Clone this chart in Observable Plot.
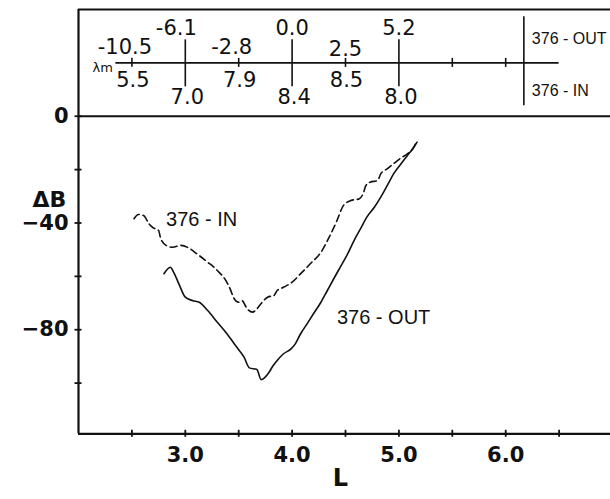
<!DOCTYPE html>
<html>
<head>
<meta charset="utf-8">
<script src="https://cdn.jsdelivr.net/npm/d3@7"></script>
<script src="https://cdn.jsdelivr.net/npm/@observablehq/plot@0.6"></script>
<style>
  html, body { margin: 0; padding: 0; background: #fff; }
</style>
</head>
<body>
<div id="chart"></div>
<script>
// Pass 376: field depression ΔB (gammas) against L shell, inbound and outbound legs
const inL  = [2.52, 2.56, 2.61, 2.66, 2.70, 2.75, 2.77, 2.82, 2.88, 2.96, 3.03, 3.11, 3.21, 3.30, 3.38, 3.42, 3.45, 3.50, 3.53, 3.58, 3.63, 3.67, 3.72, 3.77, 3.83, 3.86, 3.92, 4.00, 4.08, 4.17, 4.27, 4.34, 4.42, 4.48, 4.55, 4.63, 4.67, 4.69, 4.73, 4.80, 4.83, 4.89, 4.95, 5.02, 5.08, 5.13, 5.16];
const inB  = [-38.4, -36.8, -37.2, -40.3, -41.8, -42.8, -45.9, -48.4, -49.1, -48.4, -49.3, -51.6, -54.7, -57.8, -61.6, -64.7, -67.8, -69.7, -69.1, -72.2, -73.4, -72.2, -69.7, -67.8, -67.2, -65.3, -64.1, -62.2, -59.0, -55.3, -51.0, -45.9, -39.1, -33.5, -31.6, -30.9, -28.5, -26.0, -24.7, -24.1, -21.6, -19.7, -17.8, -15.6, -14.1, -12.2, -10.0];
const outL = [2.80, 2.86, 2.89, 2.94, 3.00, 3.07, 3.13, 3.21, 3.30, 3.39, 3.47, 3.55, 3.60, 3.67, 3.71, 3.78, 3.82, 3.86, 3.92, 3.99, 4.03, 4.08, 4.14, 4.20, 4.27, 4.33, 4.39, 4.45, 4.52, 4.58, 4.64, 4.70, 4.77, 4.83, 4.89, 4.95, 5.02, 5.08, 5.13, 5.17];
const outB = [-59.0, -56.6, -58.4, -62.8, -67.8, -69.1, -69.7, -72.8, -77.2, -81.5, -85.9, -90.3, -94.3, -94.9, -98.7, -96.2, -93.6, -91.5, -89.0, -87.2, -85.3, -81.5, -77.8, -74.0, -69.7, -65.3, -60.9, -56.6, -51.6, -46.6, -42.2, -37.8, -34.1, -30.3, -26.0, -21.6, -17.8, -14.7, -12.2, -9.7];

// Magnetic latitude λm read along the same L positions (upper: outbound, lower: inbound)
const lambdaTickL = [2.5, 3.0, 3.5, 4.0, 4.5, 5.0];
const lambdaOut   = ["-10.5", "-6.1", "-2.8", "0.0", "2.5", "5.2"];
const lambdaIn    = ["5.5", "7.0", "7.9", "8.4", "8.5", "8.0"];
const lambdaMajor = [3.0, 4.0, 5.0];
const lambdaMinor = [2.5, 3.5, 4.5, 5.5, 6.0];
const lambdaAxis  = [2.35, 6.5];   // extent of the λm line
const lambdaRow   = 20;            // height of the λm line in ΔB units
const legendL     = 6.17;          // divider between the OUT / IN keys

// Axes
const xDomain = [2, 7];
const yDomain = [-119, 40];
const xLabels = [3, 4, 5, 6];
const xTicks  = [2.5, 3.0, 3.5, 4.0, 4.5, 5.0, 5.5, 6.0, 6.5];
const yLabels = [0, -40, -80];
const yTicks  = [0, -20, -40, -60, -80, -100];

const inbound  = inL.map((L, i) => ({L, dB: inB[i]}));
const outbound = outL.map((L, i) => ({L, dB: outB[i]}));
const lambdaRows = lambdaTickL.map((L, i) => ({L, out: lambdaOut[i], inn: lambdaIn[i], major: lambdaMajor.includes(L)}));
const neg = d => d.out.startsWith("-");

const numFont = "DejaVu Sans";
const txtFont = "Liberation Sans";
const ink = "#111";
const lam = {x: "L", y: () => lambdaRow, fontSize: 21, fontFamily: numFont, fill: ink};

const chart = Plot.plot({
  width: 610,
  height: 499,
  marginLeft: 78,
  marginRight: -2,
  marginTop: 9,
  marginBottom: 65.7,
  x: {domain: xDomain, label: null},
  y: {domain: yDomain, label: null},
  marks: [
    // frame: left axis, bottom axis, zero line, top edge of the λm box
    Plot.ruleX([xDomain[0]], {y1: yDomain[0], y2: yDomain[1], stroke: ink, strokeWidth: 2.2}),
    Plot.ruleY([yDomain[0], 0, yDomain[1]], {x1: xDomain[0], x2: xDomain[1], stroke: ink, strokeWidth: 2.2}),

    // tick marks crossing the axes
    Plot.ruleX(xTicks, {x: d => d, y1: yDomain[0], y2: yDomain[0], insetTop: -3.5, insetBottom: -3.5, stroke: ink, strokeWidth: 1.8}),
    Plot.ruleY(yTicks, {y: d => d, x1: xDomain[0], x2: xDomain[0], insetLeft: -3.5, insetRight: -3.5, stroke: ink, strokeWidth: 1.8}),

    // tick labels
    Plot.axisX(xLabels, {tickSize: 0, tickPadding: 13, tickFormat: d3.format(".1f"), label: null,
      fontSize: 21, fontWeight: "bold", fontFamily: numFont, fill: ink}),
    Plot.axisY(yLabels, {tickSize: 0, tickPadding: 10, tickFormat: d3.format("d"), label: null,
      fontSize: 21, fontWeight: "bold", fontFamily: numFont, fill: ink}),

    // axis titles
    Plot.text(["L"], {text: d => d, frameAnchor: "bottom", dx: -5, dy: 52,
      fontSize: 24, fontWeight: "bold", fontFamily: numFont, fill: ink}),
    Plot.text(["ΔB"], {text: d => d, frameAnchor: "left", dx: -46, dy: -22,
      fontSize: 22, fontWeight: "bold", fontFamily: numFont, fill: ink}),

    // λm scale
    Plot.ruleY([lambdaRow], {x1: lambdaAxis[0], x2: lambdaAxis[1], stroke: ink, strokeWidth: 1.6}),
    Plot.ruleX(lambdaMajor, {x: d => d, y1: lambdaRow, y2: lambdaRow, insetTop: -23, insetBottom: -24, stroke: ink, strokeWidth: 1.6}),
    Plot.ruleX(lambdaMinor, {x: d => d, y1: lambdaRow, y2: lambdaRow, insetTop: -4.5, insetBottom: -4.5, stroke: ink, strokeWidth: 1.6}),
    Plot.ruleX([legendL], {y1: lambdaRow, y2: lambdaRow, insetTop: -46, insetBottom: -43, stroke: ink, strokeWidth: 1.6}),
    Plot.text(["λm"], {text: d => d, x: () => lambdaAxis[0], y: () => lambdaRow, textAnchor: "end", dx: -3, dy: 5,
      fontSize: 13, fontFamily: numFont, fill: ink}),

    // λm values: outbound above the line, inbound below; minus signs hang left of the digits
    Plot.text(lambdaRows.filter(d => d.major && !neg(d)), {...lam, text: "out", dy: -34.5}),
    Plot.text(lambdaRows.filter(d => d.major && neg(d)), {...lam, text: "out", dy: -34.5, dx: -9}),
    Plot.text(lambdaRows.filter(d => !d.major && !neg(d)), {...lam, text: "out", dy: -13.5}),
    Plot.text(lambdaRows.filter(d => !d.major && neg(d)), {...lam, text: "out", dy: -16, dx: -7}),
    Plot.text(lambdaRows.filter(d => d.major), {...lam, text: "inn", dx: 2, dy: 34}),
    Plot.text(lambdaRows.filter(d => !d.major), {...lam, text: "inn", dx: 1, dy: 17.5}),

    // key at the right of the λm box
    Plot.text(["376 - OUT"], {text: d => d, x: () => legendL, y: () => lambdaRow, textAnchor: "start", dx: 8, dy: -24,
      fontSize: 16, fontFamily: txtFont, fill: ink}),
    Plot.text(["376 - IN"], {text: d => d, x: () => legendL, y: () => lambdaRow, textAnchor: "start", dx: 8, dy: 28,
      fontSize: 16, fontFamily: txtFont, fill: ink}),

    // ΔB profiles
    Plot.line(inbound, {x: "L", y: "dB", curve: "monotone-x", stroke: ink, strokeWidth: 1.6, strokeDasharray: "7,4"}),
    Plot.line(outbound, {x: "L", y: "dB", curve: "monotone-x", stroke: ink, strokeWidth: 1.6}),

    // curve labels, set off from points on each curve
    Plot.text(inbound.slice(0, 1), {x: "L", y: "dB", text: () => "376 - IN", textAnchor: "start", dx: 32, dy: 1,
      fontSize: 20, fontFamily: txtFont, fill: ink}),
    Plot.text(outbound.filter(d => d.L === 4.27), {x: "L", y: "dB", text: () => "376 - OUT", textAnchor: "start", dx: 16, dy: 15,
      fontSize: 20, fontFamily: txtFont, fill: ink})
  ]
});

document.getElementById("chart").appendChild(chart);
</script>
</body>
</html>
